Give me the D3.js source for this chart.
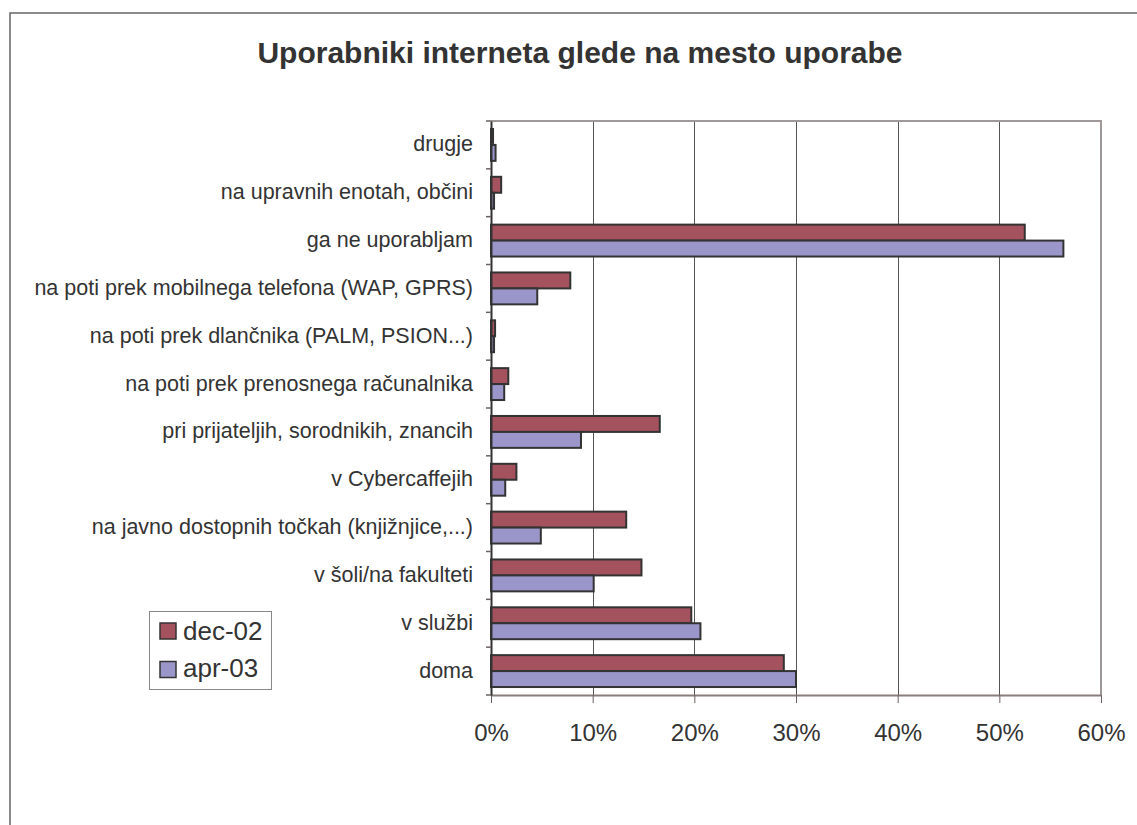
<!DOCTYPE html>
<html>
<head>
<meta charset="utf-8">
<script src="https://cdn.jsdelivr.net/npm/d3@7"></script>
<style>
  body { margin: 0; background: #fff; overflow: hidden; }
  svg { display: block; }
  svg text { font-family: "Liberation Sans", Arial, sans-serif; fill: #333; }
</style>
</head>
<body>
<div id="svg-container"></div>
<script>
// categorieen van boven naar onder
const categories = [
  "drugje",
  "na upravnih enotah, občini",
  "ga ne uporabljam",
  "na poti prek mobilnega telefona (WAP, GPRS)",
  "na poti prek dlančnika (PALM, PSION...)",
  "na poti prek prenosnega računalnika",
  "pri prijateljih, sorodnikih, znancih",
  "v Cybercaffejih",
  "na javno dostopnih točkah (knjižnjice,...)",
  "v šoli/na fakulteti",
  "v službi",
  "doma"
]
const seriesNames = ["dec-02", "apr-03"]
const dec02 = [0.2, 1.0, 52.5, 7.8, 0.4, 1.7, 16.6, 2.5, 13.3, 14.8, 19.7, 28.8]
const apr03 = [0.45, 0.3, 56.3, 4.55, 0.3, 1.3, 8.85, 1.4, 4.9, 10.1, 20.6, 30.0]
const xTicks = [0, 10, 20, 30, 40, 50, 60]

const colors = { "dec-02": "#a5525f", "apr-03": "#9b96ca" }

const width = 1137
const height = 825
const margin = { top: 121, right: 36, bottom: 130, left: 491 }
const innerWidth = width - margin.left - margin.right
const innerHeight = height - margin.top - margin.bottom

const data = categories.map((c, i) => ({ cat: c, "dec-02": dec02[i], "apr-03": apr03[i] }))

const svg = d3.select('#svg-container')
  .append('svg').attr('width', width).attr('height', height)

// buitenkader (alleen boven en links zichtbaar)
svg.append('path')
  .attr('d', `M10,${height}V13H${width}`)
  .attr('fill', 'none').attr('stroke', '#666').attr('stroke-width', 1.5)

svg.append('text')
  .attr('x', 580).attr('y', 63)
  .attr('text-anchor', 'middle')
  .attr('font-size', '30px').attr('font-weight', 'bold')
  .text('Uporabniki interneta glede na mesto uporabe')

const g = svg.append('g').attr('transform', `translate(${margin.left},${margin.top})`)

const xScale = d3.scaleLinear().domain([0, 60]).range([0, innerWidth])
const yScale = d3.scaleBand().domain(categories).range([0, innerHeight])
  .paddingInner(1 / 3).paddingOuter(1 / 6)
const ySub = d3.scaleBand().domain(seriesNames).range([0, yScale.bandwidth()])

// gridlijnen
g.selectAll('.grid').data(xTicks.slice(1, -1)).enter().append('line')
  .attr('x1', d => Math.round(xScale(d)) + 0.5).attr('x2', d => Math.round(xScale(d)) + 0.5)
  .attr('y1', 0).attr('y2', innerHeight)
  .attr('stroke', '#555').attr('stroke-width', 1)

// plotkader boven en rechts
g.append('path')
  .attr('d', `M0,0H${innerWidth}V${innerHeight}`)
  .attr('fill', 'none').attr('stroke', '#a09898').attr('stroke-width', 2)

// balken
const groups = g.selectAll('.cat').data(data).enter().append('g')
  .attr('transform', d => `translate(0,${yScale(d.cat)})`)
groups.selectAll('rect').data(d => seriesNames.map(s => ({ s, v: d[s] }))).enter().append('rect')
  .attr('x', 0)
  .attr('y', d => ySub(d.s))
  .attr('width', d => xScale(d.v))
  .attr('height', ySub.bandwidth())
  .attr('fill', d => colors[d.s])
  .attr('stroke', '#333').attr('stroke-width', 2)

// x-as
const xAxis = d3.axisBottom(xScale).tickValues(xTicks).tickFormat(d => d + '%').tickSize(8).tickSizeOuter(0)
const xAxisG = g.append('g').attr('transform', `translate(0,${innerHeight})`).call(xAxis)
xAxisG.select('.domain').attr('stroke', '#8a7d7d').attr('stroke-width', 2)
xAxisG.selectAll('.tick line').attr('stroke', '#6d6060')
xAxisG.selectAll('.tick text')
  .attr('font-size', '24px').attr('fill', '#333')
  .attr('y', 46).attr('dy', 0)

// y-as
const yAxis = d3.axisLeft(yScale).tickSize(0).tickPadding(18)
const yAxisG = g.append('g').call(yAxis)
yAxisG.select('.domain').attr('stroke', '#333').attr('stroke-width', 2)
yAxisG.selectAll('.tick text').attr('font-size', '21.5px').attr('fill', '#333').attr('dy', '0.3em')
// kleine streepjes tussen de categorieen
const step = yScale.step()
g.selectAll('.ytick').data(d3.range(categories.length + 1)).enter().append('line')
  .attr('x1', -5).attr('x2', 0)
  .attr('y1', i => i * step).attr('y2', i => i * step)
  .attr('stroke', '#6d6060').attr('stroke-width', 1.5)

// legenda
const legend = svg.append('g').attr('transform', 'translate(149,611)')
legend.append('rect')
  .attr('x', 0.5).attr('y', 0.5).attr('width', 122).attr('height', 78)
  .attr('fill', '#fff').attr('stroke', '#888')
seriesNames.forEach((s, i) => {
  legend.append('rect')
    .attr('x', 11).attr('y', 12 + i * 38.5).attr('width', 16).attr('height', 16)
    .attr('fill', colors[s]).attr('stroke', '#333').attr('stroke-width', 1.5)
  legend.append('text')
    .attr('x', 34).attr('y', 29 + i * 37)
    .attr('font-size', '26px')
    .text(s)
})
</script>
</body>
</html>
